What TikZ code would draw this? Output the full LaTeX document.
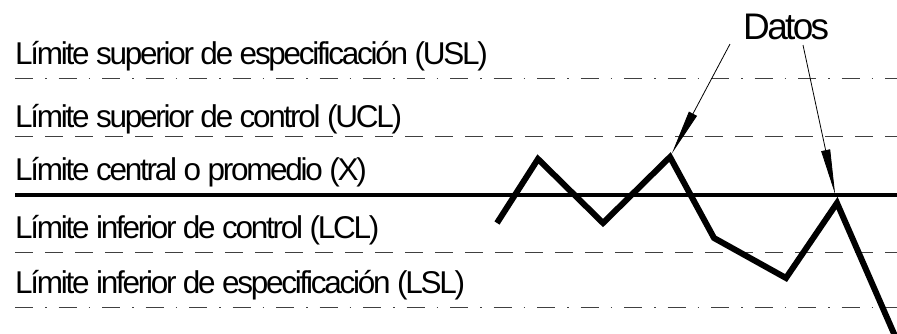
\documentclass[tikz,border=0pt]{standalone}
\usepackage{fontspec}
\setmainfont{Liberation Sans}[LetterSpace=-7.2]
\usetikzlibrary{arrows.meta}
\begin{document}
\begin{tikzpicture}[x=1pt,y=-1pt]
      \tikzstyle{lbl}=[anchor=base west,inner sep=0pt,font=\fontsize{31.5}{36}\selectfont]
      \tikzstyle{spec}=[black!75,line width=1pt,dash pattern=on 18pt off 12pt on 1.5pt off 12pt]
      \tikzstyle{ctrl}=[black!75,line width=1pt,dash pattern=on 18pt off 12pt]
      \tikzstyle{datos}=[line width=6pt,line join=miter,miter limit=20]
      \tikzstyle{flecha}=[line width=0.8pt,-{Triangle[length=45pt,width=9pt]}]
      \useasboundingbox (0,0) rectangle (897,333);

      % lineas de referencia
      \draw[spec] (15,78) -- (897,78);
      \draw[ctrl] (15,136) -- (897,136);
      \draw[line width=3.5pt] (15,195) -- (897,195);
      \draw[ctrl] (15,252) -- (897,252);
      \draw[spec] (15,307) -- (897,307);

      \node[lbl] (usl) at (15,64) {Límite superior de especificación (USL)};
      \node[lbl] (ucl) at (15,127) {Límite superior de control (UCL)};
      \node[lbl] (cl) at (15,180) {Límite central o promedio (X)};
      \node[lbl] (lcl) at (15,238) {Límite inferior de control (LCL)};
      \node[lbl] (lsl) at (15,293) {Límite inferior de especificación (LSL)};

      % datos
      \coordinate (p1) at (497,223);
      \coordinate (p2) at (538,159);
      \coordinate (p3) at (603,223);
      \coordinate (p4) at (670,157);
      \coordinate (p5) at (714,238);
      \coordinate (p6) at (786,278);
      \coordinate (p7) at (837,203);
      \coordinate (p8) at (895,336);
      \draw[datos] (p1) -- (p2) -- (p3) -- (p4) -- (p5) -- (p6) -- (p7) -- (p8);

      \node[anchor=base west,inner sep=0pt,font=\fontsize{37}{42}\selectfont] (dat) at (743,39) {Datos};
      \coordinate (a1) at (730,44);
      \coordinate (a2) at (803,45);
      \draw[flecha,shorten >=4pt] (a1) -- (p4);
      \draw[flecha,shorten >=9pt] (a2) -- (p7);
    \end{tikzpicture}
\end{document}
